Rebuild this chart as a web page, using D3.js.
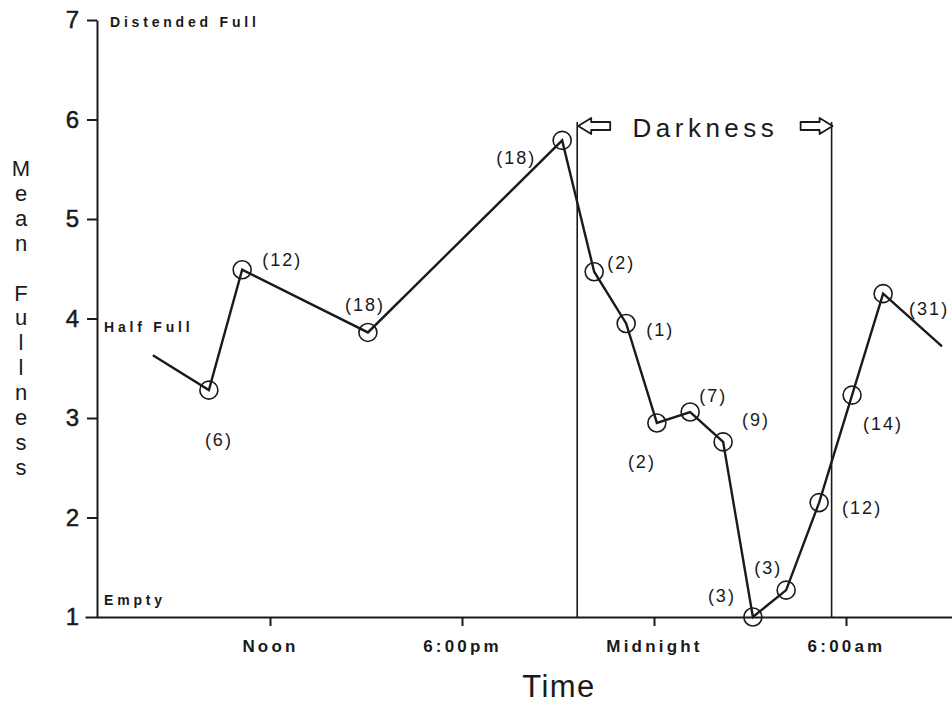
<!DOCTYPE html>
<html lang="en">
<head>
    <meta charset="UTF-8">
    <title>Mean Fullness over Time</title>
    <script src="https://d3js.org/d3.v7.min.js"></script>
    <style>
        body { margin: 0; background: #fff; }
        svg { display: block; font-family: "Liberation Sans", Arial, sans-serif; }
        .axis path, .axis line { stroke: #1a1a1a; stroke-width: 2; }
        .axis text { fill: #1a1a1a; }
    </style>
</head>
<body>
<script>
// hours since midnight of the first day (12 = noon, 24 = midnight, 30 = 6am)
const hours  = [8.34, 10.09, 11.13, 15.06, 21.13, 22.13, 23.13, 24.09, 25.13, 26.16, 27.09, 28.13, 29.16, 30.19, 31.16, 33.0];
const values = [3.63, 3.28, 4.49, 3.86, 5.79, 4.47, 3.95, 2.95, 3.06, 2.76, 1.0, 1.27, 2.15, 3.23, 4.25, 3.72];
// sample sizes; null = continuation stub with no marker
const counts = [null, 6, 12, 18, 18, 2, 1, 2, 7, 9, 3, 3, 12, 14, 31, null];

const timeTicks = [12, 18, 24, 30];
const timeLabels = ["Noon", "6:00pm", "Midnight", "6:00am"];
const fullnessTicks = [1, 2, 3, 4, 5, 6, 7];
const fullnessNotes = [["Distended Full", 7], ["Half Full", 4], ["Empty", 1]];
const darkness = [21.6, 29.55];

// where each count label sits relative to its marker (px)
const labelOffsets = [null, [10, 50], [40, -10], [-3, -27], [-46, 18], [27, -9], [34, 7], [-15, 39],
    [23, -16], [33, -22], [-31, -21], [-18, -22], [43, 5], [31, 29], [46, 15], null];

const width = 952, height = 705;
const ink = "#1a1a1a";

const svg = d3.select("body").append("svg")
    .attr("width", width)
    .attr("height", height);

const x = d3.scaleLinear().domain([12, 30]).range([270, 846]);
const y = d3.scaleLinear().domain([1, 7]).range([617, 20]);

// x axis runs the full width, past the y axis
const xFull = d3.scaleLinear().domain([x.invert(85), x.invert(width)]).range([85, width]);

svg.append("g")
    .attr("class", "axis")
    .attr("transform", `translate(0,${y(1)})`)
    .call(d3.axisBottom(xFull).tickValues(timeTicks).tickSize(9).tickSizeOuter(0).tickPadding(14)
        .tickFormat((d, i) => timeLabels[i]))
    .call(g => g.selectAll("text")
        .style("font-size", "17px").style("font-weight", "bold").style("letter-spacing", "3.2px"));

svg.append("g")
    .attr("class", "axis")
    .attr("transform", `translate(97,0)`)
    .call(d3.axisLeft(y).tickValues(fullnessTicks.slice(1)).tickSize(10).tickSizeOuter(0).tickPadding(8)
        .tickFormat(d3.format("d")))
    .call(g => g.selectAll("text").style("font-size", "24px")
        .attr("stroke", "#1a1a1a").attr("stroke-width", 0.5));

// the "1" label sits on the extended x axis
svg.append("text")
    .attr("x", 79).attr("y", y(fullnessTicks[0]) + 8)
    .attr("text-anchor", "end")
    .style("font-size", "24px").attr("fill", ink)
    .attr("stroke", ink).attr("stroke-width", 0.5)
    .text(fullnessTicks[0]);

// notes next to the y axis
svg.selectAll(".note")
    .data(fullnessNotes)
    .join("text")
    .attr("class", "note")
    .attr("x", (d, i) => i === 0 ? 110 : 104)
    .attr("y", d => d[1] === 7 ? y(d[1]) + 7 : d[1] === 1 ? y(d[1]) - 12 : y(d[1]) + 13)
    .style("font-size", "14px").style("font-weight", "bold").style("letter-spacing", "3.8px")
    .attr("fill", ink)
    .text(d => d[0]);

// stacked y title
const titleLetters = "Mean Fullness".split("");
svg.append("g").selectAll("text")
    .data(titleLetters)
    .join("text")
    .attr("x", 21)
    .attr("y", (d, i) => 176 + i * 24.9)
    .attr("text-anchor", "middle")
    .style("font-size", "22px")
    .attr("fill", ink)
    .text(d => d);

svg.append("text")
    .attr("x", 559).attr("y", 697)
    .attr("text-anchor", "middle")
    .style("font-size", "31px").style("letter-spacing", "1.5px")
    .attr("fill", ink)
    .text("Time");

// darkness period
const darkTop = 122;
svg.selectAll(".dark")
    .data(darkness)
    .join("line")
    .attr("class", "dark")
    .attr("x1", d => x(d)).attr("x2", d => x(d))
    .attr("y1", darkTop).attr("y2", y(1))
    .attr("stroke", ink).attr("stroke-width", 1.6);

function arrow(tip, dir) {
    const p = [[0, 0], [13, -8], [13, -4], [32, -4], [32, 4], [13, 4], [13, 8]];
    return "M" + p.map(([a, b]) => [tip[0] + dir * a, tip[1] + b].join(",")).join("L") + "Z";
}
svg.append("path")
    .attr("d", arrow([x(darkness[0]) + 1, 126], 1))
    .attr("fill", "#fff").attr("stroke", ink).attr("stroke-width", 1.8).attr("stroke-linejoin", "round");
svg.append("path")
    .attr("d", arrow([x(darkness[1]) + 1, 126], -1))
    .attr("fill", "#fff").attr("stroke", ink).attr("stroke-width", 1.8).attr("stroke-linejoin", "round");
svg.append("text")
    .attr("x", (x(darkness[0]) + x(darkness[1])) / 2 + 1).attr("y", 137)
    .attr("text-anchor", "middle")
    .style("font-size", "26px").style("letter-spacing", "4.5px")
    .attr("fill", ink)
    .text("Darkness");

// data line
const pts = hours.map((h, i) => ({ h, v: values[i], n: counts[i], off: labelOffsets[i] }));
svg.append("path")
    .datum(pts)
    .attr("fill", "none")
    .attr("stroke", ink)
    .attr("stroke-width", 2.4)
    .attr("d", d3.line().x(d => x(d.h)).y(d => y(d.v)));

const marked = pts.filter(d => d.n !== null);
svg.selectAll(".pt")
    .data(marked)
    .join("circle")
    .attr("class", "pt")
    .attr("cx", d => x(d.h)).attr("cy", d => y(d.v))
    .attr("r", 9)
    .attr("fill", "none")
    .attr("stroke", ink).attr("stroke-width", 1.6);

svg.selectAll(".cnt")
    .data(marked)
    .join("text")
    .attr("class", "cnt")
    .attr("x", d => x(d.h) + d.off[0])
    .attr("y", d => y(d.v) + d.off[1] + 6)
    .attr("text-anchor", "middle")
    .style("font-size", "18px").style("letter-spacing", "2px")
    .attr("fill", ink)
    .text(d => `(${d.n})`);
</script>
</body>
</html>
